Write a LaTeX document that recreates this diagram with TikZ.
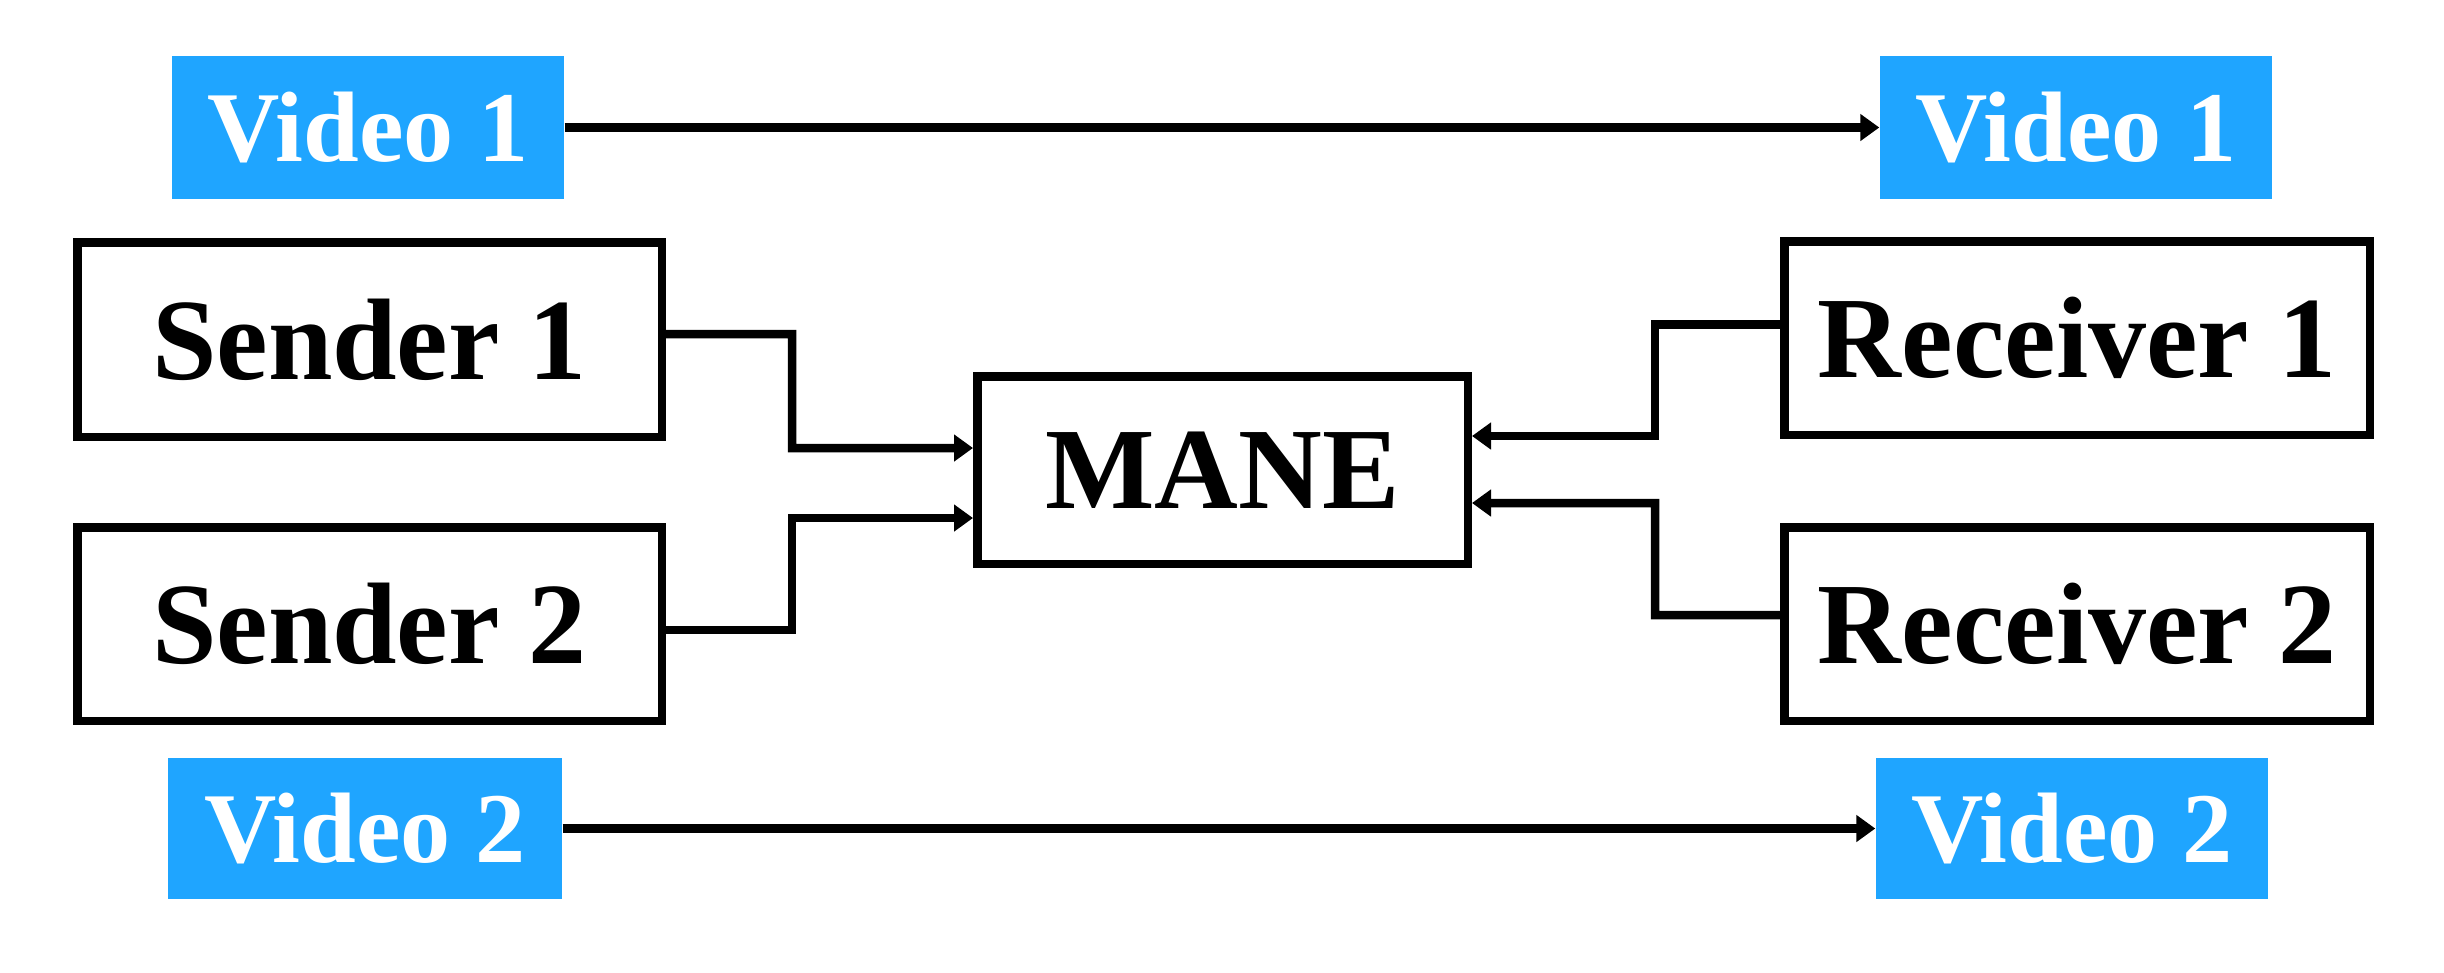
\documentclass[tikz,border=0pt]{standalone}
\usepackage{fontspec}
\setmainfont{Liberation Serif}
\usetikzlibrary{calc,arrows.meta}
\definecolor{vidblue}{RGB}{31,165,255}
\tikzset{
  box/.style={draw=black,line width=0.085cm,inner sep=0pt,fill=white,
    font=\fontsize{33}{36}\selectfont\bfseries},
  vid/.style={fill=vidblue,inner sep=0pt,text=white,
    font=\fontsize{28.5}{32}\selectfont\bfseries},
  conn/.style={line width=0.085cm,-{Triangle[length=0.19cm,width=0.26cm]}}
}
\begin{document}
\begin{tikzpicture}
\useasboundingbox (0,0) rectangle (24.44,-9.72);
% video labels
\node[vid,minimum width=3.92cm,minimum height=1.43cm](v1l)at(3.68,-1.275){Video 1};
\node[vid,minimum width=3.92cm,minimum height=1.43cm](v1r)at(20.76,-1.275){Video 1};
\node[vid,minimum width=3.94cm,minimum height=1.41cm](v2l)at(3.65,-8.285){Video 2};
\node[vid,minimum width=3.92cm,minimum height=1.41cm](v2r)at(20.72,-8.285){Video 2};
% boxes
\node[box,minimum width=5.845cm,minimum height=1.945cm](s1)at(3.695,-3.395){Sender 1};
\node[box,minimum width=5.845cm,minimum height=1.935cm](s2)at(3.695,-6.24){Sender 2};
\node[box,minimum width=4.905cm,minimum height=1.875cm](mane)at(12.225,-4.70){MANE};
\node[box,minimum width=5.855cm,minimum height=1.935cm](r1)at(20.77,-3.38){Receiver 1};
\node[box,minimum width=5.855cm,minimum height=1.935cm](r2)at(20.77,-6.24){Receiver 2};
% connectors
\draw[conn](v1l.east)--(v1r.west);
\draw[conn](v2l.east)--(v2r.west);
\draw[conn]([yshift=0.055cm]s1.east)-|(7.92,-4.48)--([yshift=0.22cm]mane.west);
\draw[conn]([yshift=-0.06cm]s2.east)-|(7.92,-5.18)--([yshift=-0.48cm]mane.west);
\draw[conn]([yshift=0.135cm]r1.west)-|(16.55,-4.36)--([yshift=0.34cm]mane.east);
\draw[conn]([yshift=0.09cm]r2.west)-|(16.55,-5.03)--([yshift=-0.33cm]mane.east);
\end{tikzpicture}
\end{document}
